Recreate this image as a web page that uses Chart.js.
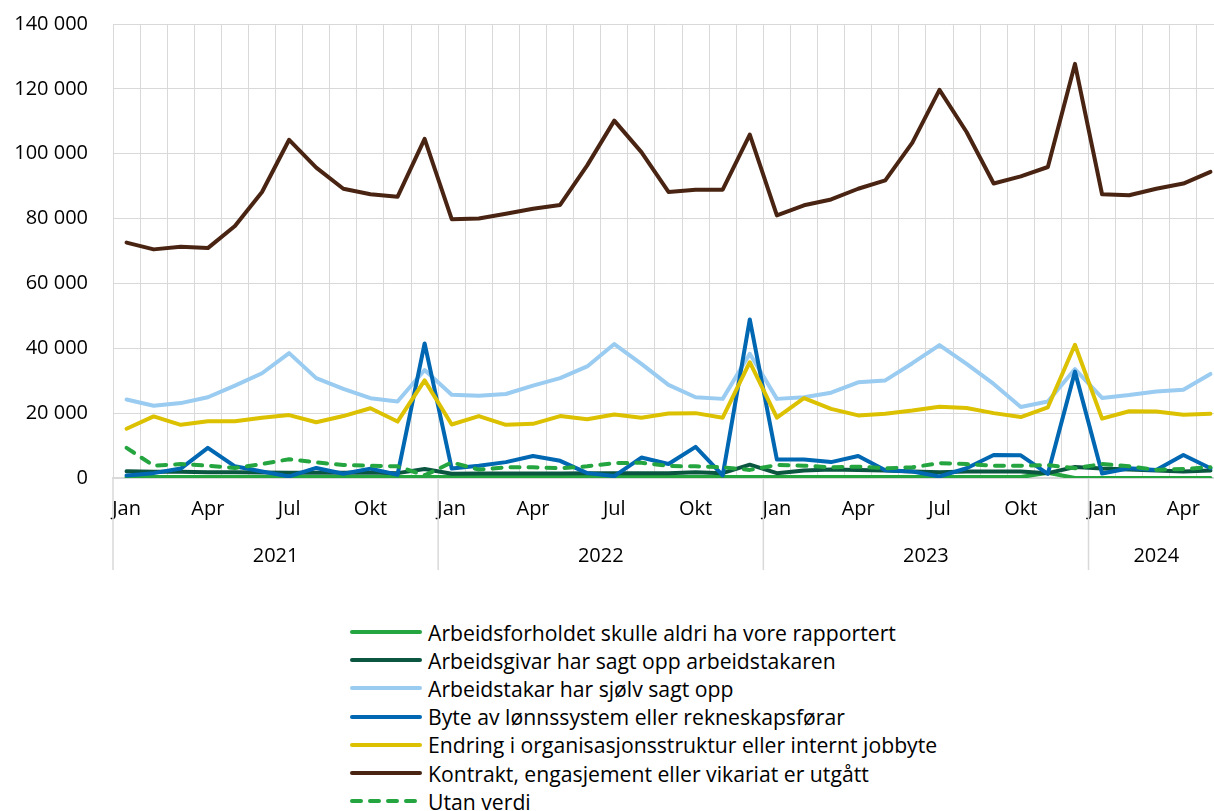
<!DOCTYPE html>
<html><head><meta charset="utf-8">
<script src="https://cdn.jsdelivr.net/npm/chart.js@4/dist/chart.umd.min.js"></script>
<style>
html,body{margin:0;padding:0;background:#fff;overflow:hidden;width:1214px;height:811px;}
#wrap{position:absolute;left:0;top:0;width:1224px;height:575px;}
#legend{position:absolute;left:348px;top:618px;font-family:'Open Sans',sans-serif;font-size:21.2px;color:#000;}
.row{display:flex;align-items:center;height:28.2px;white-space:nowrap;}
.row svg{margin-right:4px;flex:none;}
</style></head><body>
<div id="wrap"><canvas id="c" width="1224" height="575"></canvas></div>
<div id="legend"></div>
<script>
// ---- data ----
const monthNames = ["Jan","Feb","Mar","Apr","Mai","Jun","Jul","Aug","Sep","Okt","Nov","Des"];
const years = ["2021","2022","2023","2024"];
const monthsPerYear = [12,12,12,5];
const yTicks = [0,20000,40000,60000,80000,100000,120000,140000];

const arbeidsforholdet = [300,300,300,300,300,300,300,300,300,300,300,300,300,300,300,300,300,300,300,300,300,300,300,300,300,300,300,300,300,300,300,300,300,300,1600,0,0,0,0,0,0];
const arbeidsgivar = [2100,1900,1900,1800,1800,1700,1600,1600,1600,1700,1500,2800,1300,1400,1400,1400,1400,1500,1500,1500,1500,1800,1500,4100,1500,2300,2600,2500,2300,2000,1800,2000,2000,2000,1500,3400,2900,2600,2300,2000,2300];
const arbeidstakar = [24200,22300,23100,24900,28500,32300,38500,30800,27500,24600,23600,33300,25700,25400,25900,28500,30800,34400,41300,35200,28700,24900,24400,38300,24400,24900,26300,29500,30100,35400,41000,35200,29000,21900,23600,33600,24700,25600,26700,27200,32100];
const byte = [800,1500,2900,9300,3600,2000,500,3100,1300,2900,1000,41500,2900,3800,4900,6800,5300,1500,600,6300,4300,9600,800,48900,5700,5700,4900,6800,2400,2000,500,3000,7100,7000,1300,32800,1400,3000,2500,7100,3000];
const endring = [15200,19000,16400,17500,17500,18600,19400,17200,19100,21500,17400,30100,16500,19100,16400,16700,19100,18100,19600,18600,19900,20000,18600,35700,18600,24600,21300,19300,19800,20800,22000,21600,20000,18800,21800,41100,18300,20600,20500,19500,19800];
const kontrakt = [72600,70500,71300,70900,77700,88200,104300,95700,89200,87500,86700,104600,79800,80000,81500,83000,84200,96400,110200,100500,88200,88900,88900,105900,81000,84100,85900,89200,91800,103400,119700,106700,90800,93000,95900,127700,87500,87200,89200,90800,94400];
const utanVerdi = [9300,3800,4300,3800,3100,4300,5800,4800,4000,3800,3600,800,4800,2600,3300,3300,3000,3600,4600,4700,3700,3600,3300,2500,4000,3800,3300,3500,3000,3300,4600,4300,3800,3800,4000,3000,4300,3600,2500,2800,3300];

const seriesNames = [
  "Arbeidsforholdet skulle aldri ha vore rapportert",
  "Arbeidsgivar har sagt opp arbeidstakaren",
  "Arbeidstakar har sjølv sagt opp",
  "Byte av lønnssystem eller rekneskapsførar",
  "Endring i organisasjonsstruktur eller internt jobbyte",
  "Kontrakt, engasjement eller vikariat er utgått",
  "Utan verdi"
];
const seriesData = [arbeidsforholdet, arbeidsgivar, arbeidstakar, byte, endring, kontrakt, utanVerdi];
const seriesColors = ["#25A540","#0A5641","#9ACBF0","#0067B2","#DCC100","#4A2412","#25A540"];

// ---- build ----
const labels = [];
monthsPerYear.forEach((n) => { for (let m = 0; m < n; m++) labels.push(monthNames[m]); });

const fmt = v => String(v).replace(/\B(?=(\d{3})+(?!\d))/g, ' ');
const FONT = "'Open Sans', sans-serif";

const datasets = seriesData.map((d, i) => ({
  label: seriesNames[i],
  data: d,
  borderColor: seriesColors[i],
  backgroundColor: seriesColors[i],
  borderWidth: 4,
  borderDash: i === 6 ? [9, 9] : [],
  borderCapStyle: 'round',
  borderJoinStyle: 'round',
  pointRadius: 0,
  tension: 0,
  fill: false,
  order: seriesData.length - i
}));

const yearPlugin = {
  id: 'yearRow',
  afterDraw(chart) {
    const xs = chart.scales.x, ctx = chart.ctx, area = chart.chartArea;
    const half = (xs.getPixelForValue(1) - xs.getPixelForValue(0)) / 2;
    ctx.save();
    ctx.strokeStyle = '#D9D9D9';
    ctx.lineWidth = 1.5;
    ctx.fillStyle = '#000';
    ctx.font = "20px " + FONT;
    ctx.textAlign = 'center';
    ctx.textBaseline = 'middle';
    let start = 0;
    years.forEach((y, k) => {
      const n = monthsPerYear[k];
      const l = xs.getPixelForValue(start) - half;
      const r = xs.getPixelForValue(start + n - 1) + half;
      ctx.beginPath(); ctx.moveTo(l, area.bottom); ctx.lineTo(l, 570); ctx.stroke();
      if (k === years.length - 1) { ctx.beginPath(); ctx.moveTo(r, area.bottom); ctx.lineTo(r, 570); ctx.stroke(); }
      ctx.fillText(y, (l + r) / 2, 556);
      start += n;
    });
    ctx.restore();
  }
};

new Chart(document.getElementById('c'), {
  type: 'line',
  data: { labels, datasets },
  options: {
    responsive: false,
    animation: false,
    layout: { padding: { left: 14, top: 24, right: 0, bottom: 0 } },
    plugins: { legend: { display: false }, tooltip: { enabled: false } },
    scales: {
      x: {
        type: 'category',
        offset: true,
        grid: { offset: true, color: '#D9D9D9', lineWidth: 1, drawTicks: false },
        border: { color: '#D9D9D9', width: 1.5 },
        ticks: {
          autoSkip: false, maxRotation: 0, minRotation: 0, padding: 19,
          color: '#000', font: { family: FONT, size: 20 },
          callback: function(v, i) { return (i % 3 === 0) ? labels[i] : ''; }
        },
        afterFit: s => { s.height = 97; s.paddingLeft = 0; s.paddingRight = 0; }
      },
      y: {
        min: 0, max: 140000,
        afterBuildTicks: s => { s.ticks = yTicks.map(v => ({ value: v })); },
        grid: { color: '#D9D9D9', lineWidth: 1, drawTicks: false },
        border: { display: false },
        ticks: {
          padding: 25, color: '#000', font: { family: FONT, size: 20 },
          callback: v => fmt(v)
        },
        afterFit: s => { s.width = 99; s.paddingTop = 0; s.paddingBottom = 0; }
      }
    }
  },
  plugins: [yearPlugin]
});

// ---- HTML legend built from the datasets ----
const lg = document.getElementById('legend');
datasets.forEach((ds, i) => {
  const row = document.createElement('div');
  row.className = 'row';
  const dash = ds.borderDash.length ? 'stroke-dasharray="9 9"' : '';
  row.innerHTML = '<svg width="76" height="8"><line x1="4" y1="4" x2="72" y2="4" stroke="' + ds.borderColor +
    '" stroke-width="4" stroke-linecap="round" ' + dash + '/></svg><span>' + ds.label + '</span>';
  lg.appendChild(row);
});
</script>
</body></html>
